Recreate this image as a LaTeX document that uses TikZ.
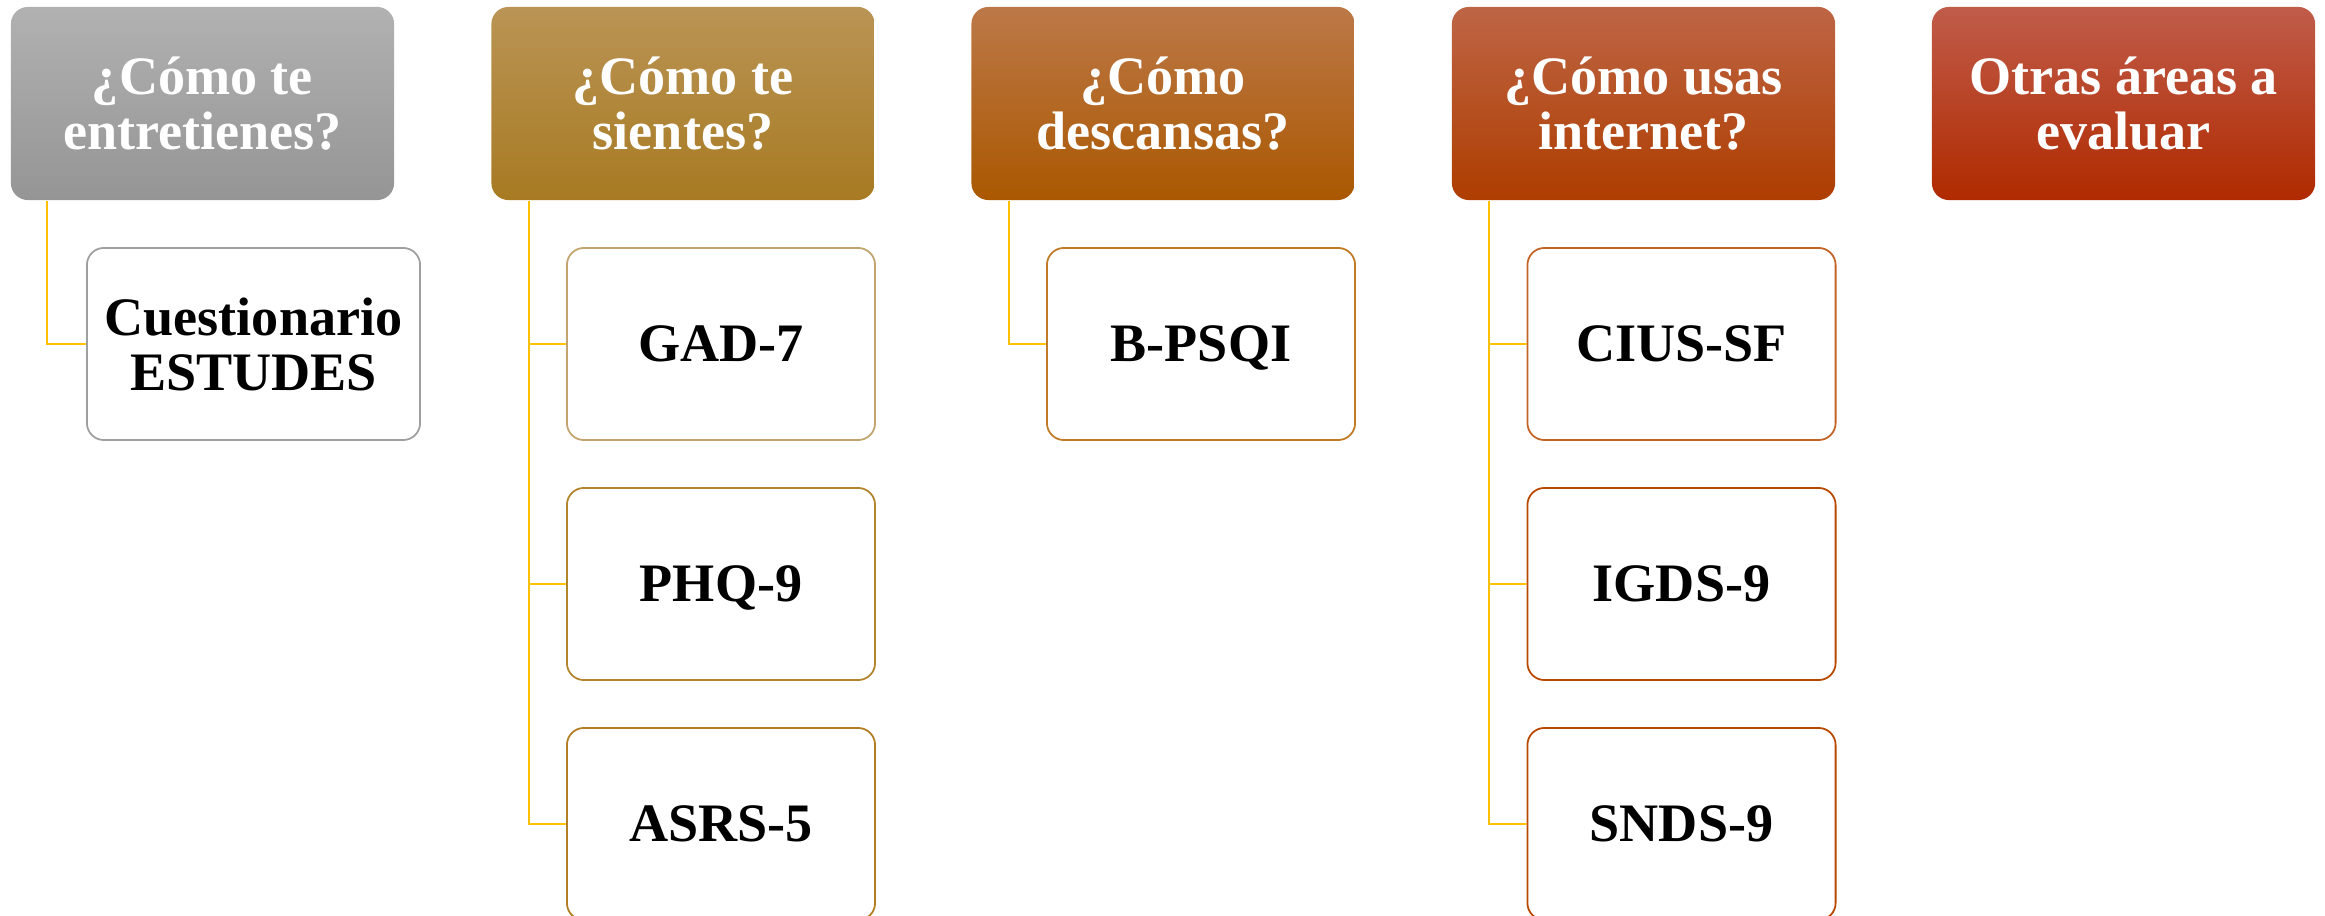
\documentclass[tikz,border=0pt]{standalone}
\usepackage{fontspec}
\setmainfont{Liberation Serif}
\usepackage{tikz}
\usetikzlibrary{shapes}

\definecolor{grayTop}{HTML}{B1B1B1}
\definecolor{grayBot}{HTML}{959595}
\definecolor{goldTop}{HTML}{BA9455}
\definecolor{goldMid}{HTML}{B2852C}
\definecolor{goldBot}{HTML}{A77A22}
\definecolor{ambTop}{HTML}{BC7848}
\definecolor{ambMid}{HTML}{B66200}
\definecolor{ambBot}{HTML}{AA5800}
\definecolor{rustTop}{HTML}{BE6545}
\definecolor{rustMid}{HTML}{B84800}
\definecolor{rustBot}{HTML}{AE3D00}
\definecolor{redTop}{HTML}{C05C4A}
\definecolor{redMid}{HTML}{BA3400}
\definecolor{redBot}{HTML}{B02A00}
\definecolor{linkYel}{HTML}{FFC000}

\tikzset{
  head/.style={rounded corners=0.17cm, minimum width=3.83cm, minimum height=1.93cm,
    inner sep=0pt, align=center, text=white,
    font=\fontsize{15.4}{15.8}\selectfont\bfseries},
  item/.style={draw, line width=0.5pt, fill=white, rounded corners=0.17cm,
    minimum width=3.08cm, minimum height=1.92cm, inner sep=0pt, align=center,
    text depth=0pt, font=\fontsize{15.4}{15.6}\selectfont\bfseries},
  link/.style={draw=linkYel, line width=0.45pt}
}

\begin{document}
\begin{tikzpicture}[x=0.01cm, y=-0.01cm]
      \useasboundingbox (0,0) rectangle (2325,916);
      \clip (0,0) rectangle (2325,916);

      % column headers
      \node[head, top color=grayTop, bottom color=grayBot] (ocio) at (202.5,103.5) {¿Cómo te\\entretienes?};
      \node[head, top color=goldTop, middle color=goldMid, bottom color=goldBot] (animo) at (683,103.5) {¿Cómo te\\sientes?};
      \node[head, top color=ambTop, middle color=ambMid, bottom color=ambBot] (sueno) at (1163,103.5) {¿Cómo\\descansas?};
      \node[head, top color=rustTop, middle color=rustMid, bottom color=rustBot] (red) at (1643.5,103.5) {¿Cómo usas\\internet?};
      \node[head, top color=redTop, middle color=redMid, bottom color=redBot] (otras) at (2123.5,103.5) {Otras áreas a\\evaluar};

      % questionnaires
      \node[item, draw=grayTop!90!black, minimum width=3.33cm] (estudes) at (253.5,344) {Cuestionario\\ESTUDES};
      \node[item, draw=goldTop!85!white] (gad) at (721,344) {GAD-7};
      \node[item, draw=goldMid] (phq) at (721,584) {PHQ-9};
      \node[item, draw=goldMid!80!ambMid] (asrs) at (721,824) {ASRS-5};
      \node[item, draw=ambMid!85!white] (psqi) at (1201,344) {B-PSQI};
      \node[item, draw=rustMid!85!white] (cius) at (1681.5,344) {CIUS-SF};
      \node[item, draw=rustMid] (igds) at (1681.5,584) {IGDS-9};
      \node[item, draw=rustMid] (snds) at (1681.5,824) {SNDS-9};

      % links
      \draw[link] ([xshift=0.37cm]ocio.south west) |- (estudes.west);
      \draw[link] ([xshift=0.38cm]animo.south west) |- (gad.west);
      \draw[link] ([xshift=0.38cm]animo.south west) |- (phq.west);
      \draw[link] ([xshift=0.38cm]animo.south west) |- (asrs.west);
      \draw[link] ([xshift=0.38cm]sueno.south west) |- (psqi.west);
      \draw[link] ([xshift=0.38cm]red.south west) |- (cius.west);
      \draw[link] ([xshift=0.38cm]red.south west) |- (igds.west);
      \draw[link] ([xshift=0.38cm]red.south west) |- (snds.west);
    \end{tikzpicture}
\end{document}
